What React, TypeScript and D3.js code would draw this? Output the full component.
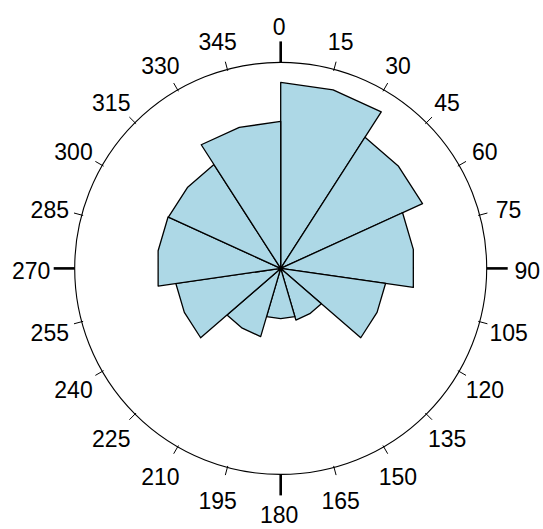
import React from "react";
import * as d3 from "d3";

// 11 bins, clockwise from north
const binCounts = [37, 26, 19.2, 12, 3.1, 2.7, 5.4, 12, 16.4, 16.3, 23.1];
const tickAngles = d3.range(0, 360, 15);
const majorAngles = [0, 90, 180, 270];

const W = 543;
const H = 529;
const cx = 280.7;
const cy = 268.4;
const R = 206;

export default function App() {
  const nb = binCounts.length;
  const arcW = 360 / nb;
  const rScale = d3.scaleSqrt().domain([0, d3.max(binCounts) as number]).range([0, 186]);
  const pt = (deg: number, r: number, ox = 0, oy = 0): [number, number] => {
    const a = (deg * Math.PI) / 180;
    return [cx + ox + r * Math.sin(a), cy + oy - r * Math.cos(a)];
  };
  const line = d3.line();
  const petals = binCounts.map((c, i) => {
    const r = rScale(c);
    const a0 = i * arcW;
    const pts: [number, number][] = [
      [cx, cy],
      pt(a0, r),
      pt(a0 + arcW / 2, r),
      pt(a0 + arcW, r),
    ];
    return line(pts) + "Z";
  });
  const labelR = (a: number) => {
    if (a === 90 || a === 270) return 248;
    if (a === 0 || a === 180) return 244;
    return 237.5;
  };
  return (
    <svg
      width={W}
      height={H}
      style={{ position: "absolute", left: 0, top: 0, background: "#fff" }}
      fontFamily="'Liberation Sans', Arial, sans-serif"
    >
      <rect x={0} y={0} width={W} height={H} fill="#fff" />
      {petals.map((d, i) => (
        <path key={i} d={d} fill="#ADD8E6" stroke="#000" strokeWidth={1.3} strokeLinejoin="round" />
      ))}
      <circle cx={cx} cy={cy} r={2.5} fill="#000" />
      <circle cx={cx} cy={cy} r={R} fill="none" stroke="#000" strokeWidth={1.1} />
      {tickAngles.map((a) => {
        const major = majorAngles.includes(a);
        const [x1, y1] = pt(a, major ? R : R - 1.5);
        const [x2, y2] = pt(a, R + (major ? 21 : 8));
        const [tx, ty] = pt(a, labelR(a), -1.5, 2.8);
        return (
          <g key={a}>
            <line x1={x1} y1={y1} x2={x2} y2={y2} stroke="#000" strokeWidth={major ? 2.6 : 1} />
            <text x={tx} y={ty} textAnchor="middle" dominantBaseline="central" fontSize={23} fill="#000">
              {a}
            </text>
          </g>
        );
      })}
    </svg>
  );
}
